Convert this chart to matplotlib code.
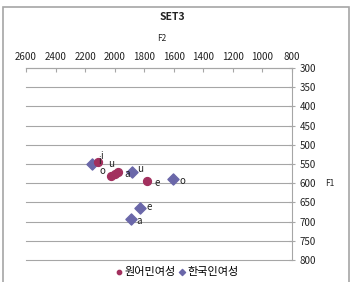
import matplotlib.pyplot as plt
from matplotlib.patches import Rectangle

plt.rcParams['font.family'] = ['Noto Sans CJK KR', 'DejaVu Sans']

# vowel formants (F2, F1)
native_vowels = ['i', 'o', 'u', 'a', 'e']
native_f2 = [2115, 2025, 1995, 1975, 1780]
native_f1 = [545, 580, 577, 572, 594]

korean_vowels = ['i', 'u', 'o', 'e', 'a']
korean_f2 = [2150, 1885, 1605, 1830, 1890]
korean_f1 = [550, 570, 590, 665, 692]

y_ticks = list(range(300, 801, 50))
x_ticks = list(range(2600, 799, -200))

# label offsets in points
native_off = {'i': (2, 2), 'o': (-8, 1), 'u': (-5, 5), 'a': (4, -3), 'e': (5, -4)}
korean_off = {'i': (4, 0), 'u': (4, 0), 'o': (5, -3), 'e': (5, -1), 'a': (4, -4)}

red = '#A2305E'
blue = '#6A67A9'
txt = '#222222'

fig = plt.figure(figsize=(3.51, 2.82), dpi=100)
ax = fig.add_axes([0.074, 0.078, 0.758, 0.681])

for y in y_ticks:
    ax.axhline(y, color='#a6a6a6', lw=0.8, zorder=0, clip_on=False)

ax.scatter(native_f2, native_f1, s=32, color=red, marker='o', zorder=3, label='원어민여성')
ax.scatter(korean_f2, korean_f1, s=32, color=blue, marker='D', zorder=2, label='한국인여성')
for v, x, y in zip(native_vowels, native_f2, native_f1):
    ax.annotate(v, (x, y), xytext=native_off[v], textcoords='offset points', fontsize=7, color=txt)
for v, x, y in zip(korean_vowels, korean_f2, korean_f1):
    ax.annotate(v, (x, y), xytext=korean_off[v], textcoords='offset points', fontsize=7, color=txt)

ax.set_xlim(2600, 800)
ax.set_ylim(800, 300)
ax.set_xticks(x_ticks)
ax.set_yticks(y_ticks)
ax.xaxis.tick_top()
ax.yaxis.tick_right()
ax.tick_params(axis='x', direction='in', length=3, color='#a6a6a6', labelsize=7, pad=4, labelcolor=txt)
ax.tick_params(axis='y', direction='inout', length=5, color='#a6a6a6', labelsize=7, pad=3, labelcolor=txt)
for side in ['left', 'bottom']:
    ax.spines[side].set_visible(False)
for side in ['top', 'right']:
    ax.spines[side].set_color('#a6a6a6')
    ax.spines[side].set_linewidth(0.8)

fig.text(0.49, 0.94, 'SET3', ha='center', va='center', fontsize=7.5, fontweight='bold', color=txt)
fig.text(0.462, 0.865, 'F2', ha='center', va='center', fontsize=6, color=txt)
fig.text(0.94, 1 - 183 / 282, 'F1', ha='center', va='center', fontsize=6, color=txt)

ax.legend(loc='center', bbox_to_anchor=(176 / 351, 1 - 272 / 282), bbox_transform=fig.transFigure,
          ncol=2, frameon=False, fontsize=8, handletextpad=0.0, columnspacing=0.1,
          markerscale=0.55, borderaxespad=0, handlelength=1.0)

fig.patches.append(Rectangle((3 / 351, -0.01), 346 / 351, 1 - 7 / 282 + 0.01, transform=fig.transFigure,
                             fill=False, edgecolor='#a6a6a6', lw=1.2))

fig.savefig('out.png', dpi=100)
